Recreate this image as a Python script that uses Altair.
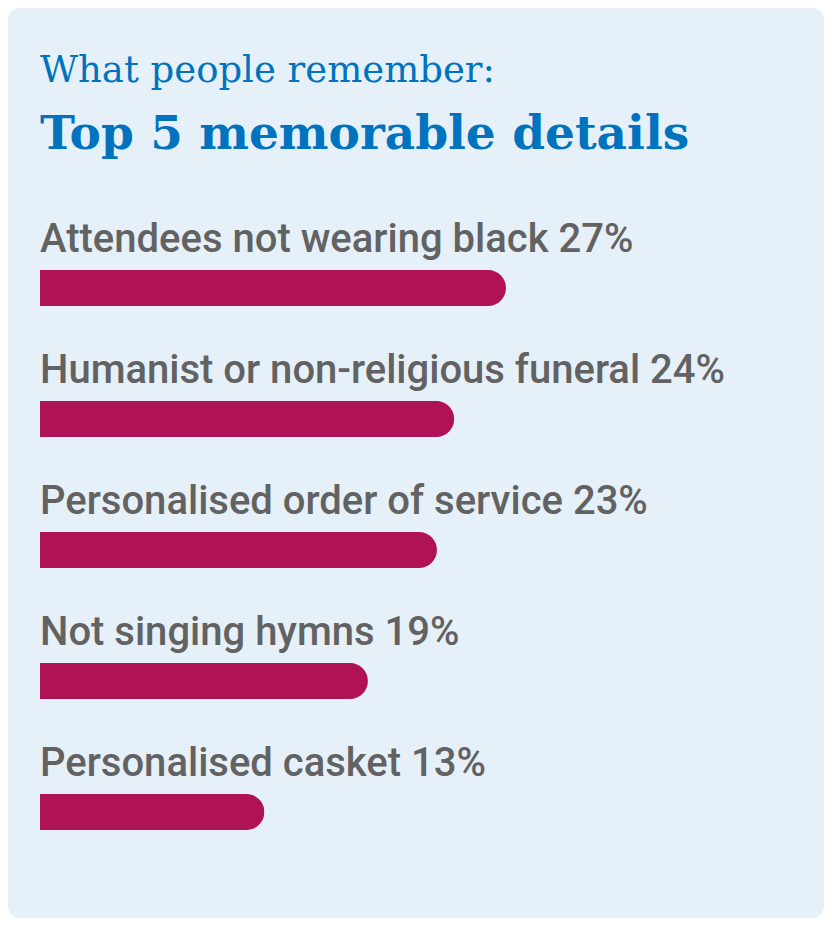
import altair as alt
import pandas as pd

categories = [
    "Attendees not wearing black",
    "Humanist or non-religious funeral",
    "Personalised order of service",
    "Not singing hymns",
    "Personalised casket",
]
values = [27, 24, 23, 19, 13]
title_top = "What people remember:"
title_main = "Top 5 memorable details"

df = pd.DataFrame({"category": categories, "value": values})
df["label"] = [f"{c} {v}%" for c, v in zip(categories, values)]

W, H = 816, 910
BAR = "#B01257"
BLUE = "#0073BE"
GRAY = "#626262"
BG = "#E6F0F9"

xscale = alt.Scale(domain=[0, 27], range=[32, 498])
yscale = alt.Scale(type="point", domain=categories, range=[280, 804], padding=0)

base = alt.Chart(df)

bars = base.mark_bar(
    color=BAR, height=36, orient="horizontal",
    cornerRadiusTopRight=18, cornerRadiusBottomRight=18,
).encode(
    x=alt.X("value:Q", scale=xscale, axis=None),
    y=alt.Y("category:N", scale=yscale, axis=None),
)

labels = base.mark_text(
    align="left", baseline="alphabetic", dy=-36, font="Roboto",
    fontSize=40, fontWeight=500, color=GRAY,
).encode(
    x=alt.value(32),
    y=alt.Y("category:N", scale=yscale, axis=None),
    text="label:N",
)

t1 = alt.Chart(pd.DataFrame({"t": [title_top]})).mark_text(
    align="left", baseline="alphabetic", font="DejaVu Serif", fontSize=37, color=BLUE,
).encode(x=alt.value(32), y=alt.value(74), text="t:N")

t2 = alt.Chart(pd.DataFrame({"t": [title_main]})).mark_text(
    align="left", baseline="alphabetic", font="DejaVu Serif", fontSize=47,
    fontWeight="bold", color=BLUE,
).encode(x=alt.value(32), y=alt.value(141), text="t:N")

chart = alt.layer(t1, t2, bars, labels).properties(
    width=W, height=H, padding=0, background="white",
).configure_view(
    fill=BG, stroke=None, cornerRadius=12,
)

chart.save("out.html", embed_options={"renderer": "svg", "actions": False})
